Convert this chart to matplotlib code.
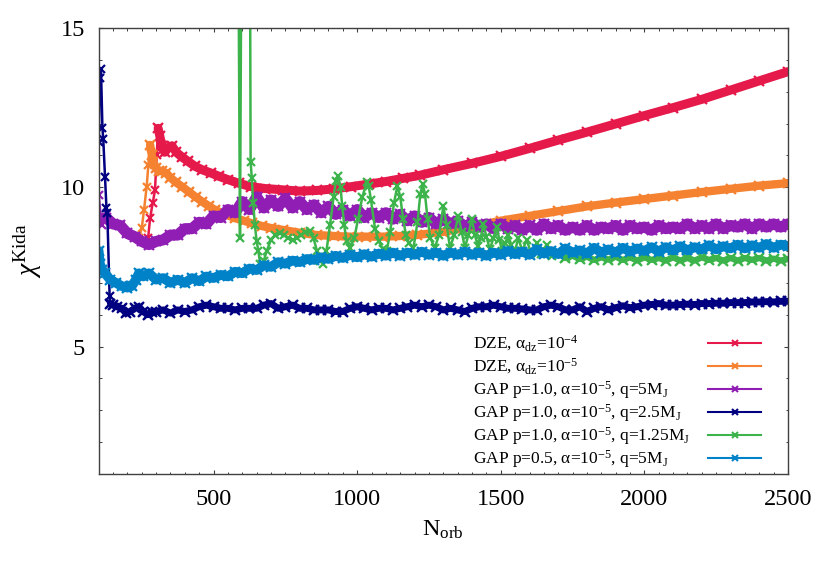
import matplotlib
matplotlib.use("Agg")
import matplotlib.pyplot as plt
from matplotlib.ticker import MultipleLocator

plt.rcParams['font.family'] = ['Liberation Serif', 'DejaVu Serif']
plt.rcParams['mathtext.fontset'] = 'custom'
plt.rcParams['mathtext.rm'] = 'Liberation Serif'
plt.rcParams['mathtext.it'] = 'Liberation Serif:italic'
plt.rcParams['mathtext.default'] = 'regular'

# values
n_dze4 = [272, 279, 288, 296, 302, 307, 313, 320, 330, 343, 355, 370, 390, 410, 435, 460,
          490, 520, 550, 590, 630, 680, 740, 800, 860, 920, 980, 1040, 1100, 1160, 1220,
          1300, 1400, 1500, 1600, 1700, 1800, 1900, 2000, 2100, 2200, 2300, 2400, 2500]
chi_dze4 = [8.4, 9.03, 9.5, 9.9, 11.0, 11.85, 11.6, 11.3, 11.1, 11.25, 11.3, 11.1, 10.95, 10.82,
            10.66, 10.55, 10.45, 10.34, 10.24, 10.12, 10.02, 9.96, 9.92, 9.88, 9.9, 9.95, 10.02,
            10.1, 10.18, 10.28, 10.38, 10.55, 10.75, 10.97, 11.22, 11.48, 11.73, 11.99, 12.25,
            12.5, 12.76, 13.05, 13.34, 13.63]

n_dze5 = [240, 250, 258, 267, 273, 279, 285, 290, 300, 310, 320, 335, 350, 370, 390, 415,
          440, 460, 485, 505, 540, 575, 605, 633, 670, 700, 743, 800, 859, 920, 975, 1030,
          1091, 1150, 1207, 1300, 1400, 1500, 1600, 1700, 1800, 1900, 2000, 2100, 2200,
          2300, 2400, 2500]
chi_dze5 = [8.4, 8.72, 9.3, 10.02, 10.7, 11.33, 11.0, 10.8, 10.6, 10.52, 10.5, 10.45, 10.3,
            10.15, 10.02, 9.85, 9.68, 9.55, 9.4, 9.29, 9.15, 9.03, 8.95, 8.87, 8.78, 8.72,
            8.66, 8.57, 8.5, 8.47, 8.45, 8.45, 8.45, 8.47, 8.5, 8.6, 8.76, 8.95, 9.1, 9.25,
            9.4, 9.52, 9.63, 9.74, 9.85, 9.95, 10.05, 10.13]

n_gap5 = [100, 110] + list(range(125, 2501, 25))
chi_gap5 = [9.75, 8.8,
            9.05, 8.85, 8.8, 8.55, 8.45, 8.3, 8.2, 8.3, 8.35, 8.5,
            8.5, 8.7, 8.7, 8.9, 8.85, 9.1, 9.05, 9.3, 9.2, 9.55,
            9.3, 9.7, 9.35, 9.6, 9.4, 9.65, 9.35, 9.55, 9.3, 9.45,
            9.2, 9.4, 9.15, 9.3, 9.1, 9.3, 9.05, 9.2, 9.05, 9.2,
            9.0, 9.15, 8.95, 9.1, 8.9, 9.05, 8.85, 9.0, 8.85, 8.95,
            8.75, 8.9, 8.75, 8.85, 8.7, 8.85, 8.7, 8.8, 8.65, 8.8,
            8.65, 8.85, 8.7, 8.8, 8.65, 8.75, 8.65, 8.8, 8.65, 8.75,
            8.7, 8.8, 8.65, 8.8, 8.7, 8.75, 8.65, 8.8, 8.7, 8.75,
            8.7, 8.85, 8.7, 8.8, 8.7, 8.85, 8.7, 8.8, 8.75, 8.85,
            8.7, 8.85, 8.75, 8.85, 8.75, 8.85]

n_gap25 = [100, 104, 108, 113, 116, 122, 127, 130, 138, 141, 150, 165, 180, 195, 210, 225,
           240, 255, 270, 285] + list(range(300, 2501, 25))
chi_gap25 = [11.43, 13.43, 13.7, 11.86, 11.5, 10.33, 9.35, 9.2, 6.6, 6.35, 6.3, 6.25, 6.2,
             6.05, 6.1, 6.2, 6.25, 6.1, 6.0, 6.1,
             6.1, 6.15, 6.05, 6.15, 6.1, 6.15, 6.25, 6.3, 6.25, 6.2,
             6.2, 6.15, 6.2, 6.2, 6.2, 6.3, 6.35, 6.2, 6.25, 6.3,
             6.2, 6.2, 6.15, 6.15, 6.15, 6.1, 6.1, 6.2, 6.25, 6.2,
             6.15, 6.2, 6.2, 6.15, 6.2, 6.25, 6.3, 6.25, 6.3, 6.25,
             6.15, 6.2, 6.15, 6.1, 6.2, 6.25, 6.25, 6.3, 6.25, 6.2,
             6.2, 6.18, 6.15, 6.15, 6.25, 6.3, 6.25, 6.15, 6.15, 6.25,
             6.1, 6.2, 6.25, 6.15, 6.22, 6.28, 6.22, 6.25, 6.3, 6.32,
             6.35, 6.3, 6.3, 6.32, 6.33, 6.32, 6.35, 6.35, 6.36, 6.36,
             6.38, 6.38, 6.38, 6.4, 6.4, 6.41, 6.4, 6.42, 6.42]

# the spikes near 590 and 620 go off the top of the plot
n_gap125 = [585, 592, 598, 626, 629, 633, 638, 644, 650, 656, 662, 668, 675, 685, 700, 715,
            730, 745, 760, 775, 790, 805, 820, 835, 848, 860, 872, 882, 893, 905, 918, 926,
            934, 942, 948, 955, 963, 975, 990, 1003, 1018, 1033, 1040, 1048, 1062, 1075,
            1090, 1103, 1115, 1128, 1140, 1150, 1160, 1170, 1180, 1196, 1210, 1220, 1228,
            1236, 1245, 1255, 1270, 1285, 1300, 1312, 1323, 1338, 1352, 1364, 1375, 1387,
            1399, 1410, 1420, 1430, 1439, 1450, 1462, 1474, 1486, 1495, 1505, 1516, 1526,
            1536, 1548, 1561, 1575, 1590, 1605, 1625, 1640, 1660, 1680, 1700] \
    + list(range(1725, 2501, 25))
chi_gap125 = [20, 8.4, 20, 20, 10.8, 10.3, 9.5, 8.8, 8.3, 8.0,
              7.6, 7.55, 7.7, 8.0, 8.35, 8.5, 8.55, 8.5, 8.4, 8.35,
              8.4, 8.5, 8.6, 8.62, 8.4, 8.0, 7.7, 7.6, 8.0, 8.8,
              9.7, 10.2, 10.35, 10.0, 9.4, 8.8, 8.3, 8.1, 8.4, 9.0,
              9.7, 10.15, 10.05, 9.6, 8.7, 8.3, 8.05, 8.0, 8.6, 9.5,
              10.05, 9.7, 9.0, 8.5, 8.25, 8.1, 8.9, 9.8, 10.1, 9.8,
              9.0, 8.4, 8.1, 8.5, 9.4, 8.8, 8.1, 8.5, 9.1, 8.6,
              8.1, 8.5, 9.0, 8.5, 8.15, 8.4, 8.85, 8.45, 8.05, 8.4,
              8.75, 8.35, 8.0, 8.25, 8.5, 8.2, 7.95, 8.4, 8.0, 8.35,
              7.95, 8.25, 7.9, 8.2, 7.85, 7.95,
              7.78, 7.85, 7.75, 7.82, 7.72, 7.8, 7.73, 7.82, 7.72, 7.8,
              7.7, 7.8, 7.72, 7.78, 7.7, 7.8, 7.7, 7.78, 7.7, 7.8,
              7.72, 7.78, 7.7, 7.78, 7.7, 7.78, 7.72, 7.78, 7.7, 7.76,
              7.7, 7.75]

n_gap5p05 = [100, 104, 112, 122, 140, 160, 180, 200, 215, 230, 240, 255, 275] \
    + list(range(300, 2501, 25))
chi_gap5p05 = [8.0, 7.6, 7.4, 7.3, 7.1, 7.0, 6.9, 6.85, 6.9, 7.1, 7.3, 7.2, 7.3,
               7.1, 7.15, 7.0, 7.1, 7.0, 7.15, 7.05, 7.2, 7.15, 7.25,
               7.2, 7.35, 7.3, 7.45, 7.4, 7.55, 7.5, 7.65, 7.6, 7.7,
               7.65, 7.75, 7.72, 7.8, 7.75, 7.85, 7.78, 7.88, 7.8, 7.9,
               7.82, 7.92, 7.85, 7.95, 7.85, 7.95, 7.88, 7.98, 7.88, 7.95,
               7.85, 7.95, 7.88, 7.98, 7.88, 7.95, 7.85, 7.95, 7.88, 8.0,
               7.9, 7.98, 7.88, 8.05, 7.92, 8.0, 7.9, 8.08, 7.95, 8.02,
               7.92, 8.1, 7.95, 8.05, 7.95, 8.1, 7.98, 8.08, 8.0, 8.12,
               7.98, 8.12, 8.02, 8.15, 8.02, 8.12, 8.05, 8.18, 8.05, 8.15,
               8.08, 8.2, 8.08, 8.18, 8.1, 8.22, 8.1, 8.2, 8.15]

labels = [r'DZE, $\alpha_{dz}$=10$^{-4}$',
          r'DZE, $\alpha_{dz}$=10$^{-5}$',
          r'GAP p=1.0, $\alpha$=10$^{-5}$, q=5M$_{J}$',
          r'GAP p=1.0, $\alpha$=10$^{-5}$, q=2.5M$_{J}$',
          r'GAP p=1.0, $\alpha$=10$^{-5}$, q=1.25M$_{J}$',
          r'GAP p=0.5, $\alpha$=10$^{-5}$, q=5M$_{J}$']
colors = ['#e6194b', '#f58231', '#911eb4', '#000080', '#3cb44b', '#0082c8']

# (x, y, index where the thick band starts, band width)
series = [(n_dze4, chi_dze4, 5, 6.5), (n_dze5, chi_dze5, 5, 6.0),
          (n_gap5, chi_gap5, 2, 8.0), (n_gap25, chi_gap25, 9, 5.0),
          (n_gap125, chi_gap125, 95, 4.5), (n_gap5p05, chi_gap5p05, 0, 7.0)]

fig = plt.figure(figsize=(8.3, 5.71), dpi=100)
ax = fig.add_axes([0.1189, 0.1699, 0.8305, 0.7811])

for (nx, cy, i0, band), c in zip(series, colors):
    ax.plot(nx, cy, color=c, lw=1.8, marker='x', ms=5.5, mew=1.6)
    # dense markers make the curve look like a thick band
    ax.plot(nx[i0:], cy[i0:], color=c, lw=band, marker='x', ms=7, mew=1.6,
            solid_capstyle='round', solid_joinstyle='round')

ax.set_xlim(100, 2500)
ax.set_ylim(1, 15)
ax.xaxis.set_major_locator(MultipleLocator(500))
ax.xaxis.set_minor_locator(MultipleLocator(50))
ax.yaxis.set_major_locator(MultipleLocator(5))
ax.yaxis.set_minor_locator(MultipleLocator(1))
ax.tick_params(which='both', direction='in', top=True, right=True, color='#404040')
ax.tick_params(which='major', length=3.2, width=0.8, labelsize=17.5)
ax.tick_params(which='minor', length=1.8, width=0.7)
ax.tick_params(axis='x', pad=11)
ax.tick_params(axis='y', pad=10)
for s in ax.spines.values():
    s.set_color('#404040')
    s.set_linewidth(1.0)

ax.set_xlabel(r'N$_{orb}$', fontsize=17.5, labelpad=6)
ax.set_ylabel(r'$\mathit{\chi}^{Kida}$', fontsize=20, labelpad=12)

# key drawn by hand: text left-aligned, sample on the right
for i, (lab, c) in enumerate(zip(labels, colors)):
    yy = 0.2937 - i * 0.0516
    ax.plot([0.884, 0.961], [yy, yy], color=c, lw=1.5, transform=ax.transAxes, clip_on=False)
    ax.plot([0.9225], [yy], color=c, marker='x', ms=4, mew=1.5, transform=ax.transAxes)
    ax.text(0.543, yy - 0.0125, lab, transform=ax.transAxes, fontsize=12.5,
            ha='left', va='baseline')

fig.savefig('out.png', dpi=100)
